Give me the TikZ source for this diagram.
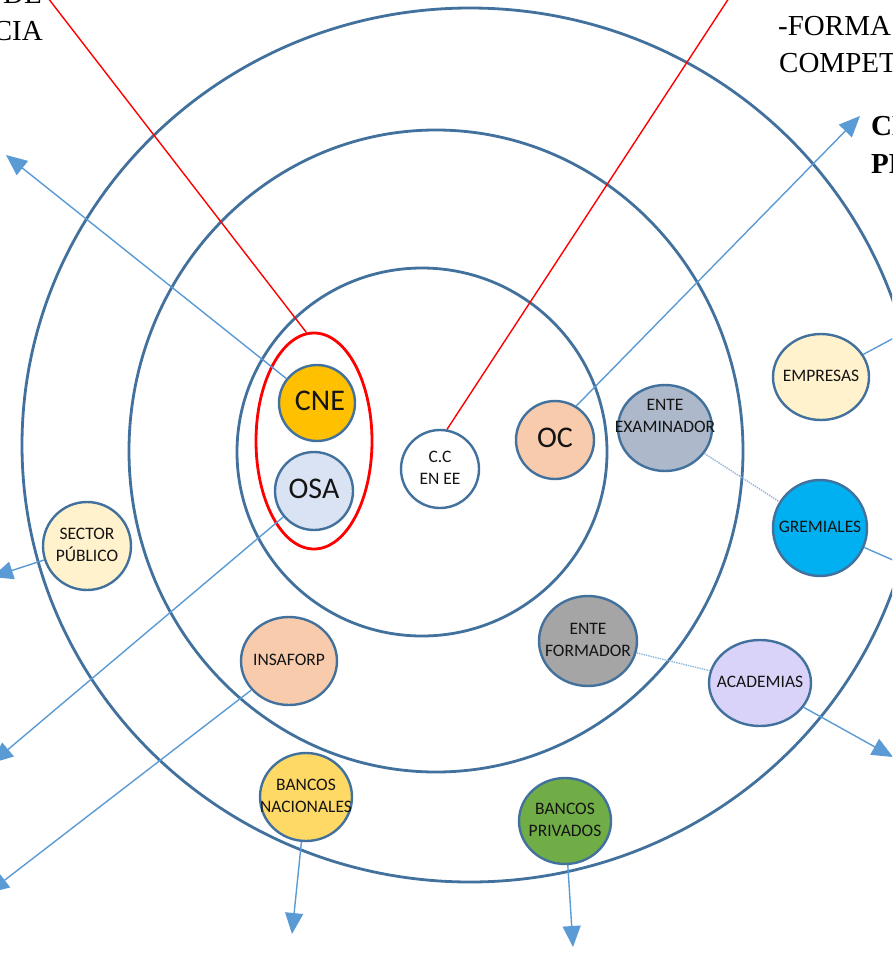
\documentclass[tikz,border=0pt]{standalone}
\usepackage{fontspec}
\setmainfont{Liberation Serif}
\newfontfamily\lblfont{Carlito}
\usetikzlibrary{arrows.meta,shapes.geometric}
\definecolor{ringc}{HTML}{41719C}
\definecolor{connc}{HTML}{5B9BD5}
\definecolor{dotc}{HTML}{8FB8E0}
\definecolor{cCNE}{HTML}{FFC000}
\definecolor{cOSA}{HTML}{DAE3F3}
\definecolor{cOC}{HTML}{F8CBAD}
\definecolor{cEX}{HTML}{ADB9CA}
\definecolor{cEMP}{HTML}{FFF2CC}
\definecolor{cGRE}{HTML}{00B0F0}
\definecolor{cEF}{HTML}{A5A5A5}
\definecolor{cAC}{HTML}{DAD3F9}
\definecolor{cBN}{HTML}{FFD966}
\definecolor{cBP}{HTML}{70AD47}
\definecolor{txtc}{HTML}{141414}
\newcommand{\lb}[1]{\makebox[0pt][c]{\begin{tabular}{@{}c@{}}#1\end{tabular}}}
\tikzset{
  ringline/.style={draw=ringc, line width=2.8pt},
  ent/.style={ellipse, draw=ringc, line width=2.4pt, inner sep=0pt, align=center,
    text=txtc, font=\lblfont\fontsize{17.5}{22}\selectfont},
  bigent/.style={ent, font=\lblfont\fontsize{30}{36}\selectfont},
  lbl/.style={inner sep=0pt, align=center, text=txtc, font=\lblfont\fontsize{17.5}{22}\selectfont},
  conn/.style={draw=connc, line width=1.4pt, -{Triangle[length=21pt,width=18pt]}},
  dotconn/.style={draw=dotc, line width=1.4pt, densely dotted},
  redline/.style={draw=red, line width=1.4pt},
  toptxt/.style={inner sep=0pt, font=\fontsize{29}{34}\selectfont},
  boldtxt/.style={inner sep=0pt, font=\bfseries\fontsize{29}{34}\selectfont}
}
\begin{document}
\begin{tikzpicture}[x=1pt,y=-1pt]
\useasboundingbox (0,0) rectangle (892,953);
\clip (0,0) rectangle (892,953);
\fill[white] (0,0) rectangle (892,953);

% rings
\draw[ringline] (470,445) ellipse [x radius=448, y radius=437];
\draw[ringline] (436,451) ellipse [x radius=307, y radius=321];
\draw[ringline] (422,452) ellipse [x radius=185, y radius=184];

% corner texts
\node[toptxt, anchor=base east] (tl1) at (42,3) {DE};
\node[toptxt, anchor=base east] (tl2) at (43,40) {CIA};
\node[toptxt, anchor=base west] (tr1) at (778,35) {-FORMA};
\node[toptxt, anchor=base west] (tr2) at (779,72) {COMPET};
\node[boldtxt, anchor=base west] (tr3) at (871,135) {CE};
\node[boldtxt, anchor=base west] (tr4) at (871,173) {PR};

% red group ellipse
\node[ellipse, draw=red, line width=2.8pt, minimum width=116pt, minimum height=216pt] (grp) at (314,441) {};

% entities
\node[bigent, fill=cCNE, minimum width=76pt, minimum height=76pt] (cne) at (317,403) {\lb{\hspace{6pt}CNE}};
\node[bigent, fill=cOSA, minimum width=78pt, minimum height=78pt] (osa) at (314,491) {\lb{OSA}};
\node[ent, fill=white, minimum width=78pt, minimum height=78pt] (cc) at (440,469) {\lb{C.C\\EN EE}};
\node[bigent, fill=cOC, minimum width=78pt, minimum height=78pt] (oc) at (555,440) {\lb{OC}};
\node[ent, fill=cEX, minimum width=94pt, minimum height=86pt] (ex) at (665,428) {};
\node[lbl] (exl) at (665,417) {\lb{ENTE\\EXAMINADOR}};
\node[ent, fill=cEMP, minimum width=96pt, minimum height=86pt] (emp) at (821,377) {\lb{EMPRESAS}};
\node[ent, fill=cGRE, minimum width=94pt, minimum height=96pt] (gre) at (820,528) {\lb{GREMIALES}};
\node[ent, fill=cEMP, minimum width=88pt, minimum height=88pt] (sp) at (87,546) {\lb{SECTOR\\PÚBLICO}};
\node[ent, fill=cOC, minimum width=96pt, minimum height=88pt] (ins) at (289,661) {\lb{INSAFORP}};
\node[ent, fill=cEF, minimum width=98pt, minimum height=90pt] (ef) at (588,641) {\lb{ENTE\\FORMADOR}};
\node[ent, fill=cAC, minimum width=102pt, minimum height=86pt] (ac) at (760,683) {\lb{ACADEMIAS}};
\node[ent, fill=cBN, minimum width=92pt, minimum height=88pt] (bn) at (306,797) {\lb{BANCOS\\NACIONALES}};
\node[ent, fill=cBP, minimum width=92pt, minimum height=86pt] (bp) at (565,821) {\lb{BANCOS\\PRIVADOS}};

% free ends
\coordinate (a1) at (6,155);
\coordinate (a2) at (860,116);
\coordinate (a3) at (935,316);
\coordinate (a4) at (945,583);
\coordinate (a5) at (893,757);
\coordinate (a6) at (-8,577);
\coordinate (a7) at (-8,763);
\coordinate (a8) at (-12,893);
\coordinate (a9) at (292,934);
\coordinate (a10) at (573,947);
\coordinate (r1) at (48,-2);
\coordinate (r2) at (729,-2);

% connectors
\draw[conn] (cne) -- (a1);
\draw[conn] (oc.58) -- (a2);
\draw[conn] (emp) -- (a3);
\draw[conn] (gre) -- (a4);
\draw[conn] (ac) -- (a5);
\draw[conn] (sp) -- (a6);
\draw[conn] (osa) -- (a7);
\draw[conn] (ins) -- (a8);
\draw[conn] (bn) -- (a9);
\draw[conn] (bp) -- (a10);

% dotted links
\draw[dotconn] (ex) -- (gre);
\draw[dotconn] (ef) -- (ac);

% red lines
\draw[redline] (r1) -- (grp.94);
\draw[redline] (r2) -- (cc.80);
\end{tikzpicture}
\end{document}
